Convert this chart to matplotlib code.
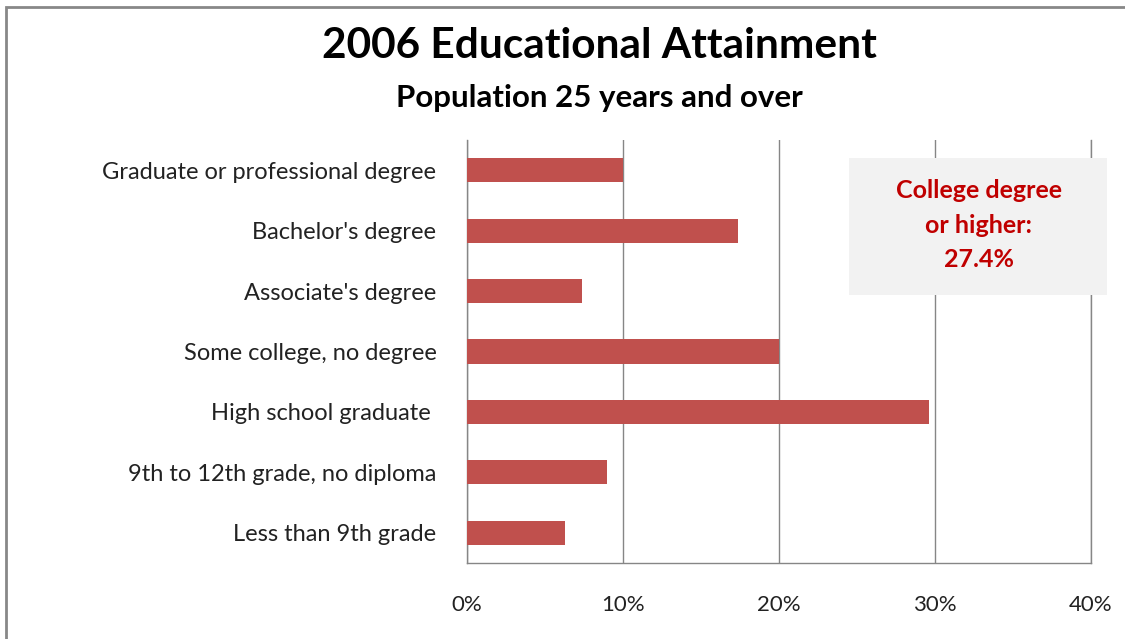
import matplotlib.pyplot as plt
from matplotlib.patches import Rectangle

categories = ['Less than 9th grade', '9th to 12th grade, no diploma', 'High school graduate ',
              'Some college, no degree', "Associate's degree", "Bachelor's degree",
              'Graduate or professional degree']
shares = [6.3, 9.0, 29.6, 20.0, 7.4, 17.4, 10.0]
ticks = [0, 10, 20, 30, 40]
tick_labels = ['0%', '10%', '20%', '30%', '40%']

plt.rcParams['font.family'] = ['Lato', 'DejaVu Sans']

fig = plt.figure(figsize=(11.25, 6.39), dpi=100)
ax = fig.add_axes([467 / 1125, 1 - 563 / 639, 624 / 1125, 423 / 639])

ax.barh(range(len(categories)), shares, height=0.4, color='#C0504D', zorder=3)
ax.set_xlim(0, 40)
ax.set_ylim(-0.5, len(categories) - 0.5)
ax.set_xticks(ticks)
ax.set_xticklabels(tick_labels, fontsize=16, color='#222222')
ax.set_yticks(range(len(categories)))
ax.set_yticklabels(categories, fontsize=17, color='#222222')
ax.tick_params(axis='x', length=0, pad=23)
ax.tick_params(axis='y', length=0, pad=22)
ax.grid(axis='x', color='#868686', linewidth=1, zorder=0)
ax.spines['top'].set_visible(False)
for s in ['left', 'bottom', 'right']:
    ax.spines[s].set_color('#868686')
    ax.spines[s].set_linewidth(1)

# callout box
ax.add_patch(Rectangle((24.5, 3.93), 16.5, 2.27, facecolor='#F2F2F2', edgecolor='none',
                       zorder=4, clip_on=False))
ax.text(32.8, 5.09, 'College degree\nor higher:\n27.4%', ha='center', va='center',
        fontsize=18, fontweight='bold', color='#C00000', linespacing=1.6, zorder=5)

fig.text(0.533, 0.928, '2006 Educational Attainment', ha='center', va='center',
         fontsize=30.5, fontweight='bold')
fig.text(0.533, 0.847, 'Population 25 years and over', ha='center', va='center',
         fontsize=22.5, fontweight='bold')

# outer frame
fig.add_artist(Rectangle((6 / 1125, -0.05), 1.2, 1 - 7 / 639 + 0.05, transform=fig.transFigure,
                         fill=False, edgecolor='#888888', linewidth=2))

fig.savefig('out.png', dpi=100)
